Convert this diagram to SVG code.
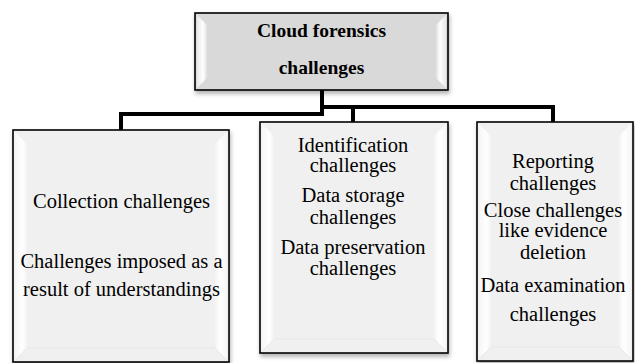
<svg xmlns="http://www.w3.org/2000/svg" width="635" height="363" viewBox="0 0 635 363">
<defs>
<filter id="sh" x="-10%" y="-10%" width="120%" height="130%">
<feDropShadow dx="1" dy="3" stdDeviation="2" flood-color="#000" flood-opacity="0.3"/>
</filter>
<linearGradient id="gl" x1="0" y1="0" x2="1" y2="0">
<stop offset="0" stop-color="#fff" stop-opacity="0.4"/>
<stop offset="0.6" stop-color="#fff" stop-opacity="1"/>
<stop offset="1" stop-color="#fff" stop-opacity="0.2"/>
</linearGradient>
<linearGradient id="gr" x1="1" y1="0" x2="0" y2="0">
<stop offset="0" stop-color="#fff" stop-opacity="0.4"/>
<stop offset="0.6" stop-color="#fff" stop-opacity="1"/>
<stop offset="1" stop-color="#fff" stop-opacity="0.2"/>
</linearGradient>
</defs>
<style>
.box{stroke:#000;stroke-width:1.6;filter:url(#sh)}
.top{fill:#d9d9d9}
.sub{fill:#f0f0f0}
.bev{fill:none;stroke:#e4e4e4;stroke-width:0.8}
.con{fill:none;stroke:#000;stroke-width:4;stroke-linejoin:miter}
</style>
<g id="connectors">
<path class="con" d="M322,90 V114 H121 V130"/>
<path class="con" d="M322,107 H553 V122"/>
<path class="con" d="M353,107 V122"/>
</g>
<g id="root">
<rect class="box top" x="195" y="13" width="253" height="77"/>
<polygon points="197,15 207,25 207,78 197,88" fill="url(#gl)"/>
<polygon points="446,15 436,25 436,78 446,88" fill="url(#gr)"/>
<g font-family="Liberation Serif, DejaVu Serif, serif" font-size="19.5" font-weight="bold" text-anchor="middle" fill="#000">
<text x="321.5" y="37">Cloud forensics</text>
<text x="321.5" y="74">challenges</text>
</g>
</g>
<g id="collection">
<rect class="box sub" x="13" y="130" width="216" height="232"/>
<polygon points="15,132 27,144 27,348 15,360" fill="url(#gl)"/>
<polygon points="227,132 215,144 215,348 227,360" fill="url(#gr)"/>
<path class="bev" d="M15,360 L27,348 H215 L227,360"/>
<g font-family="Liberation Serif, DejaVu Serif, serif" font-size="20.5" text-anchor="middle" fill="#000">
<text x="121.5" y="208">Collection challenges</text>
<text x="121.5" y="268">Challenges imposed as a</text>
<text x="121.5" y="296">result of understandings</text>
</g>
</g>
<g id="identification">
<rect class="box sub" x="260" y="122" width="188" height="231"/>
<polygon points="262,124 274,136 274,339 262,351" fill="url(#gl)"/>
<polygon points="446,124 434,136 434,339 446,351" fill="url(#gr)"/>
<path class="bev" d="M262,351 L274,339 H434 L446,351"/>
<g font-family="Liberation Serif, DejaVu Serif, serif" font-size="20.5" text-anchor="middle" fill="#000">
<text x="353" y="152">Identification</text>
<text x="353" y="172">challenges</text>
<text x="353" y="202">Data storage</text>
<text x="353" y="224">challenges</text>
<text x="353" y="254">Data preservation</text>
<text x="353" y="275">challenges</text>
</g>
</g>
<g id="reporting">
<rect class="box sub" x="477" y="122" width="156" height="239"/>
<polygon points="479,124 491,136 491,347 479,359" fill="url(#gl)"/>
<polygon points="631,124 619,136 619,347 631,359" fill="url(#gr)"/>
<path class="bev" d="M479,359 L491,347 H619 L631,359"/>
<g font-family="Liberation Serif, DejaVu Serif, serif" font-size="20.5" text-anchor="middle" fill="#000">
<text x="553" y="168">Reporting</text>
<text x="553" y="190">challenges</text>
<text x="553" y="217">Close challenges</text>
<text x="553" y="237">like evidence</text>
<text x="553" y="259">deletion</text>
<text x="553" y="292">Data examination</text>
<text x="553" y="321">challenges</text>
</g>
</g>
</svg>
